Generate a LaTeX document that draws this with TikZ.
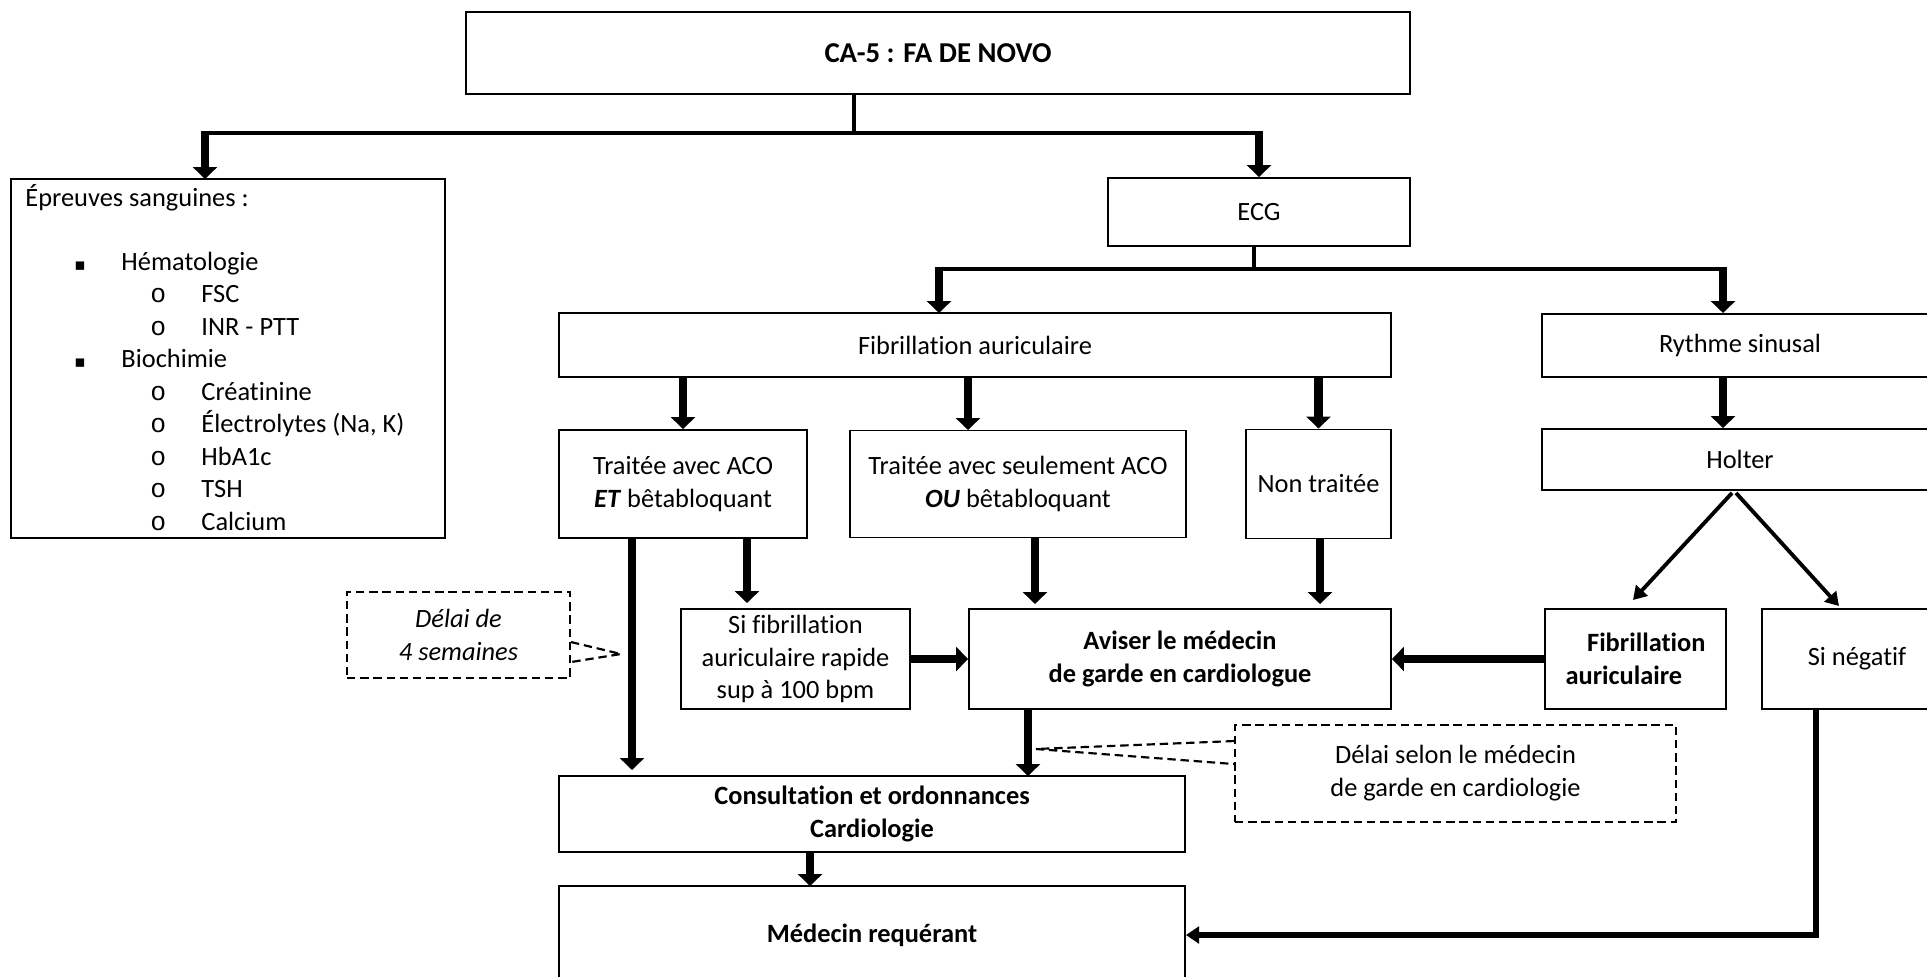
\documentclass[tikz,border=0pt]{standalone}
\usepackage{fontspec}
\setmainfont{Carlito}[Ligatures=NoCommon]
\newfontfamily\ringfont{Liberation Mono}
\newfontfamily\squarefont{DejaVu Sans}
\usetikzlibrary{calc, arrows.meta}

\newcommand{\boxfont}{\fontsize{11}{13.7}\selectfont}
\newcommand{\headfont}{\fontsize{12}{14.5}\selectfont\bfseries}

\begin{document}
\begin{tikzpicture}[x=0.01465cm, y=-0.01465cm,
    box/.style={draw=borderColour, line width=0.8pt, align=center, font=\boxfont, inner sep=2pt},
    dbox/.style={box, dash pattern=on 3.5pt off 2pt},
    sz/.style 2 args={minimum width=#1*\unitPx, minimum height=#2*\unitPx},
    item/.style={anchor=west, inner sep=0pt, font=\boxfont, text height=9pt, text depth=2pt},
    busline/.style={draw=borderColour, line width=2pt},
    drop/.style={draw=borderColour, line width=3.6pt, -{Triangle[width=10pt, length=5pt]}},
    thinarrow/.style={draw=borderColour, line width=1.6pt, -{Triangle[width=6.5pt, length=5.5pt]}},
    returnline/.style={draw=borderColour, line width=2.8pt, -{Triangle[width=7pt, length=5.5pt]}},
    callout/.style={draw=borderColour, line width=0.9pt, dash pattern=on 3.5pt off 2pt}]
    % Define colors
    \definecolor{borderColour}{HTML}{000000}

    % Define pixel unit
    \def\unitPx{0.01465cm}

    % Page frame
    \useasboundingbox (0,0) rectangle (1927,977);
    \clip (0,0) rectangle (1927,977);

    % Top box
    \node[box, sz={944}{82}, font=\headfont] (title) at (938,53) {CA-5 : FA DE NOVO};

    % Blood tests box
    \node[box, sz={434}{359}] (sang) at (228,358.5) {};
    \node[item] (lHead) at (25,198) {Épreuves sanguines :};
    \foreach \yy/\txt [count=\i] in {262/Hématologie, 359/Biochimie}
    {
        \node[item, font=\fontsize{7}{7}\squarefont] (sq\i) at (74,\yy) {▪};
        \node[item] (main\i) at (121,\yy) {\txt};
    }
    \foreach \yy/\txt [count=\i] in {294/FSC, 327/INR - PTT, 392/Créatinine, 424/{Électrolytes (Na, K)}, 457/HbA1c, 489/TSH, 522/Calcium}
    {
        \node[item, font=\fontsize{11}{11}\ringfont] (ring\i) at (150,\yy) {o};
        \node[item] (sub\i) at (201,\yy) {\txt};
    }

    % ECG branch
    \node[box, sz={302}{68}] (ECG) at (1259,212) {ECG};
    \node[box, sz={832}{64}] (FA) at (975,345) {Fibrillation auriculaire};
    \node[box, sz={396}{63}] (RS) at (1740,345.5) {Rythme sinusal};
    \node[box, sz={396}{61}] (Holter) at (1740,459.5) {Holter};

    % Treatment boxes
    \node[box, sz={248}{108}] (ET) at (683,484) {Traitée avec ACO\\\textbf{\textit{ET}} bêtabloquant};
    \node[box, sz={336}{107}] (OU) at (1018,484) {Traitée avec seulement ACO\\\textbf{\textit{OU}} bêtabloquant};
    \node[box, sz={145}{109}] (NT) at (1318.5,484) {Non traitée};

    % Middle row
    \node[box, sz={229}{100}] (SF) at (795.5,659) {Si fibrillation\\auriculaire rapide\\sup à 100 bpm};
    \node[box, sz={422}{100}, font=\boxfont\bfseries] (AV) at (1180,659) {Aviser le médecin\\de garde en cardiologue};
    \node[box, sz={181}{100}, font=\boxfont\bfseries, align=left] (FibA) at (1635.5,659) {\hspace*{9pt}Fibrillation\\auriculaire};
    \node[box, sz={190}{100}] (SN) at (1857,659) {Si négatif};

    % Bottom boxes
    \node[box, sz={626}{76}, font=\boxfont\bfseries] (CO) at (872,814) {Consultation et ordonnances\\Cardiologie};
    \node[box, sz={626}{98}, font=\boxfont\bfseries] (MR) at (872,935) {Médecin requérant};

    % Dashed notes
    \node[dbox, sz={223}{86}, font=\boxfont\itshape] (D1) at (458.5,635) {Délai de\\4 semaines};
    \node[dbox, sz={441}{97}] (D2) at (1455.5,773.5) {Délai selon le médecin\\de garde en cardiologie};

    % Split below top box
    \coordinate (tStem) at (854,133);
    \coordinate (dropSang) at (205,179);
    \draw[busline] (title.south -| tStem) -- (tStem);
    \draw[busline] (dropSang |- tStem) -- (ECG.north |- tStem);
    \draw[drop, shorten <=-1pt] (dropSang |- tStem) -- (dropSang);
    \draw[drop, shorten <=-1pt] (ECG.north |- tStem) -- (ECG.north);

    % Split below ECG
    \coordinate (eStem) at (1254,269);
    \coordinate (dropFA) at (939,313);
    \coordinate (dropRS) at (1723,313);
    \draw[busline] (ECG.south -| eStem) -- (eStem);
    \draw[busline] (dropFA |- eStem) -- (dropRS |- eStem);
    \draw[drop, shorten <=-1pt] (dropFA |- eStem) -- (dropFA);
    \draw[drop, shorten <=-1pt] (dropRS |- eStem) -- (dropRS);

    % Arrows from FA and RS
    \coordinate (dropOU) at (968,430);
    \draw[drop] (FA.south -| ET.north) -- (ET.north);
    \draw[drop] (FA.south -| dropOU) -- (dropOU);
    \draw[drop] (FA.south -| NT.north) -- (NT.north);
    \draw[drop] (RS.south -| dropRS) -- (Holter.north -| dropRS);

    % Arrows to middle row
    \coordinate (dropSF) at (747,603);
    \coordinate (dropAV) at (1035,604);
    \coordinate (dropNT) at (1320,604);
    \draw[drop] (ET.south -| dropSF) -- (dropSF);
    \draw[drop] (OU.south -| dropAV) -- (dropAV);
    \draw[drop] (NT.south -| dropNT) -- (dropNT);
    \draw[drop] (SF.east) -- (AV.west);
    \draw[drop] (FibA.west) -- (AV.east);

    % Holter outcomes
    \coordinate (hitFib) at (1633,600);
    \coordinate (hitNeg) at (1839,606);
    \draw[thinarrow] ($(Holter.south)+(-8,2)$) -- (hitFib);
    \draw[thinarrow] ($(Holter.south)+(-4,2)$) -- (hitNeg);

    % Arrows to bottom boxes
    \coordinate (legET) at (632,770);
    \coordinate (legAV) at (1028,776);
    \coordinate (legCO) at (810,886);
    \coordinate (legNeg) at (1816,709);
    \draw[drop] (ET.south -| legET) -- (legET);
    \draw[drop] (AV.south -| legAV) -- (legAV);
    \draw[drop] (CO.south -| legCO) -- (legCO);
    \draw[returnline] (SN.south -| legNeg) |- (MR.east);

    % Note pointers
    \coordinate (tip1) at (621,654);
    \coordinate (tip2) at (1036,749);
    \draw[callout] ($(D1.north east)+(0,51)$) -- (tip1) -- ($(D1.north east)+(0,71)$);
    \draw[callout] ($(D2.north west)+(0,17)$) -- (tip2) -- ($(D2.north west)+(0,40)$);

\end{tikzpicture}
\end{document}
